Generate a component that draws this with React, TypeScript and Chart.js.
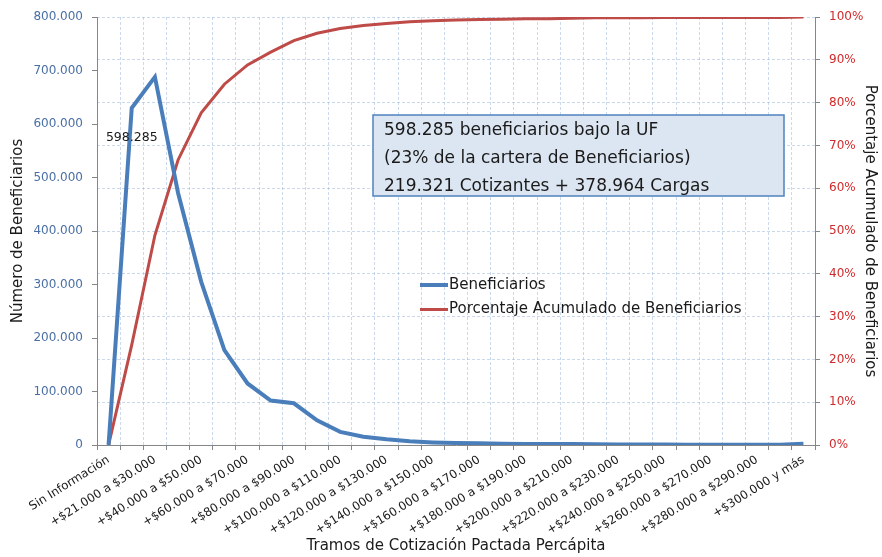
import React, { useEffect, useRef } from "react";
import { Chart, registerables } from "chart.js";

Chart.register(...registerables);

const categories = [
  "Sin Información",
  "$0 a $21.000",
  "+$21.000 a $30.000",
  "+$30.000 a $40.000",
  "+$40.000 a $50.000",
  "+$50.000 a $60.000",
  "+$60.000 a $70.000",
  "+$70.000 a $80.000",
  "+$80.000 a $90.000",
  "+$90.000 a $100.000",
  "+$100.000 a $110.000",
  "+$110.000 a $120.000",
  "+$120.000 a $130.000",
  "+$130.000 a $140.000",
  "+$140.000 a $150.000",
  "+$150.000 a $160.000",
  "+$160.000 a $170.000",
  "+$170.000 a $180.000",
  "+$180.000 a $190.000",
  "+$190.000 a $200.000",
  "+$200.000 a $210.000",
  "+$210.000 a $220.000",
  "+$220.000 a $230.000",
  "+$230.000 a $240.000",
  "+$240.000 a $250.000",
  "+$250.000 a $260.000",
  "+$260.000 a $270.000",
  "+$270.000 a $280.000",
  "+$280.000 a $290.000",
  "+$290.000 a $300.000",
  "+$300.000 y más",
];

const beneficiarios = [
  0, 630000, 688000, 471000, 305000, 177500, 115000, 83000, 78000, 46000,
  24500, 15500, 10600, 6800, 4900, 3800, 3100, 2500, 2100, 2000,
  1800, 1300, 1000, 900, 800, 700, 600, 500, 500, 400, 2500,
];

const porcentajeAcumulado = [
  0, 23.4, 49.0, 66.6, 77.6, 84.3, 88.8, 91.8, 94.5, 96.2,
  97.3, 98.0, 98.5, 98.9, 99.1, 99.3, 99.4, 99.5, 99.6, 99.6,
  99.7, 99.8, 99.8, 99.8, 99.9, 99.9, 99.9, 99.9, 99.9, 99.9, 100,
];

const leftTicks = [0, 100000, 200000, 300000, 400000, 500000, 600000, 700000, 800000];
const rightTicks = [0, 10, 20, 30, 40, 50, 60, 70, 80, 90, 100];

const pointLabel = "598.285";
const annotationLines = [
  "598.285 beneficiarios bajo la UF",
  "(23% de la cartera de Beneficiarios)",
  "219.321 Cotizantes + 378.964 Cargas",
];

const seriesNames = ["Beneficiarios", "Porcentaje Acumulado de Beneficiarios"];

const BLUE = "#4a7ebb";
const RED = "#be4b48";
const GRID = "rgba(150,180,215,0.5)";
const AXIS = "#868686";
const FONT = "'DejaVu Sans', Verdana, sans-serif";

const fmtThousands = (v: number) =>
  Math.round(v).toString().replace(/\B(?=(\d{3})+(?!\d))/g, ".");

const overlayPlugin = {
  id: "overlay",
  afterDatasetsDraw(chart: any) {
    const ctx = chart.ctx;
    ctx.save();
    // data label on category 1
    const meta = chart.getDatasetMeta(0);
    const pt = meta.data[1];
    if (pt) {
      ctx.font = `12.5px ${FONT}`;
      ctx.fillStyle = "#1a1a1a";
      ctx.textAlign = "center";
      ctx.textBaseline = "middle";
      ctx.fillText(pointLabel, pt.x, pt.y + 30);
    }
    // annotation box
    const bx = 373, by = 115, bw = 411, bh = 81;
    ctx.fillStyle = "#dce6f2";
    ctx.fillRect(bx, by, bw, bh);
    ctx.strokeStyle = "#4f81bd";
    ctx.lineWidth = 1.5;
    ctx.strokeRect(bx, by, bw, bh);
    ctx.fillStyle = "#1a1a1a";
    ctx.font = `17px ${FONT}`;
    ctx.textAlign = "left";
    ctx.textBaseline = "middle";
    annotationLines.forEach((t, i) => ctx.fillText(t, 384, 131 + i * 28));
    // legend
    const colors = [BLUE, RED];
    const widths = [4, 3];
    ctx.font = `15px ${FONT}`;
    seriesNames.forEach((name, i) => {
      const y = 285 + i * 24.5;
      ctx.strokeStyle = colors[i];
      ctx.lineWidth = widths[i];
      ctx.beginPath();
      ctx.moveTo(420, y);
      ctx.lineTo(448, y);
      ctx.stroke();
      ctx.fillStyle = "#1a1a1a";
      ctx.fillText(name, 449, y);
    });
    ctx.restore();
  },
};

export default function App() {
  const canvasRef = useRef<HTMLCanvasElement | null>(null);

  useEffect(() => {
    if (!canvasRef.current) return;
    const chart = new Chart(canvasRef.current, {
      type: "line",
      data: {
        labels: categories,
        datasets: [
          {
            label: seriesNames[0],
            data: beneficiarios,
            borderColor: BLUE,
            backgroundColor: BLUE,
            borderWidth: 4,
            pointRadius: 0,
            tension: 0,
            yAxisID: "y",
            order: 1,
          },
          {
            label: seriesNames[1],
            data: porcentajeAcumulado,
            borderColor: RED,
            backgroundColor: RED,
            borderWidth: 3,
            pointRadius: 0,
            tension: 0,
            yAxisID: "y1",
            order: 2,
          },
        ],
      },
      options: {
        animation: false,
        responsive: true,
        maintainAspectRatio: false,
        layout: { padding: { top: 17, left: 0, right: 0, bottom: 0 } },
        plugins: {
          legend: { display: false },
          tooltip: { enabled: false },
        },
        scales: {
          x: {
            offset: true,
            grid: {
              offset: true,
              color: GRID,
              tickColor: AXIS,
              tickLength: 5,
              drawOnChartArea: true,
            },
            border: { display: true, color: AXIS, width: 1, dash: [3, 2] },
            ticks: {
              autoSkip: false,
              minRotation: 32,
              maxRotation: 32,
              padding: 3,
              color: "#1a1a1a",
              font: { family: FONT, size: 11.8 },
              callback: (_v: any, i: number) => (i % 2 === 0 ? categories[i] : ""),
            },
            title: {
              display: true,
              text: "Tramos de Cotización Pactada Percápita",
              color: "#1a1a1a",
              font: { family: FONT, size: 15 },
              padding: { top: 0, bottom: 2 },
            },
            afterFit: (s: any) => {
              s.height = 112;
            },
          },
          y: {
            position: "left",
            min: 0,
            max: 800000,
            afterBuildTicks: (s: any) => {
              s.ticks = leftTicks.map((v) => ({ value: v }));
            },
            grid: {
              drawOnChartArea: false,
              tickColor: AXIS,
              tickLength: 5,
            },
            border: { display: true, color: AXIS, width: 1 },
            ticks: {
              padding: 9,
              color: "#4a6fa5",
              font: { family: FONT, size: 12 },
              callback: (v: any) => fmtThousands(Number(v)),
            },
            title: {
              display: true,
              text: "Número de Beneficiarios",
              color: "#1a1a1a",
              font: { family: FONT, size: 15 },
              padding: { top: 9, bottom: 0 },
            },
            afterFit: (s: any) => {
              s.width = 97;
            },
          },
          y1: {
            position: "right",
            min: 0,
            max: 100,
            afterBuildTicks: (s: any) => {
              s.ticks = rightTicks.map((v) => ({ value: v }));
            },
            grid: {
              drawOnChartArea: true,
              color: GRID,
              tickColor: AXIS,
              tickLength: 5,
            },
            border: { display: true, color: AXIS, width: 1, dash: [3, 2] },
            ticks: {
              padding: 9,
              color: "#d02a2a",
              font: { family: FONT, size: 12 },
              callback: (v: any) => `${v}%`,
            },
            title: {
              display: true,
              text: "Porcentaje Acumulado de Beneficiarios",
              color: "#1a1a1a",
              font: { family: FONT, size: 15 },
              padding: { top: 3, bottom: 0 },
            },
            afterFit: (s: any) => {
              s.width = 67;
            },
          },
        },
      },
      plugins: [overlayPlugin],
    });
    return () => chart.destroy();
  }, []);

  return (
    <div style={{ position: "absolute", left: 0, top: 0, width: 882, height: 557, background: "#fff" }}>
      <canvas ref={canvasRef} />
    </div>
  );
}
